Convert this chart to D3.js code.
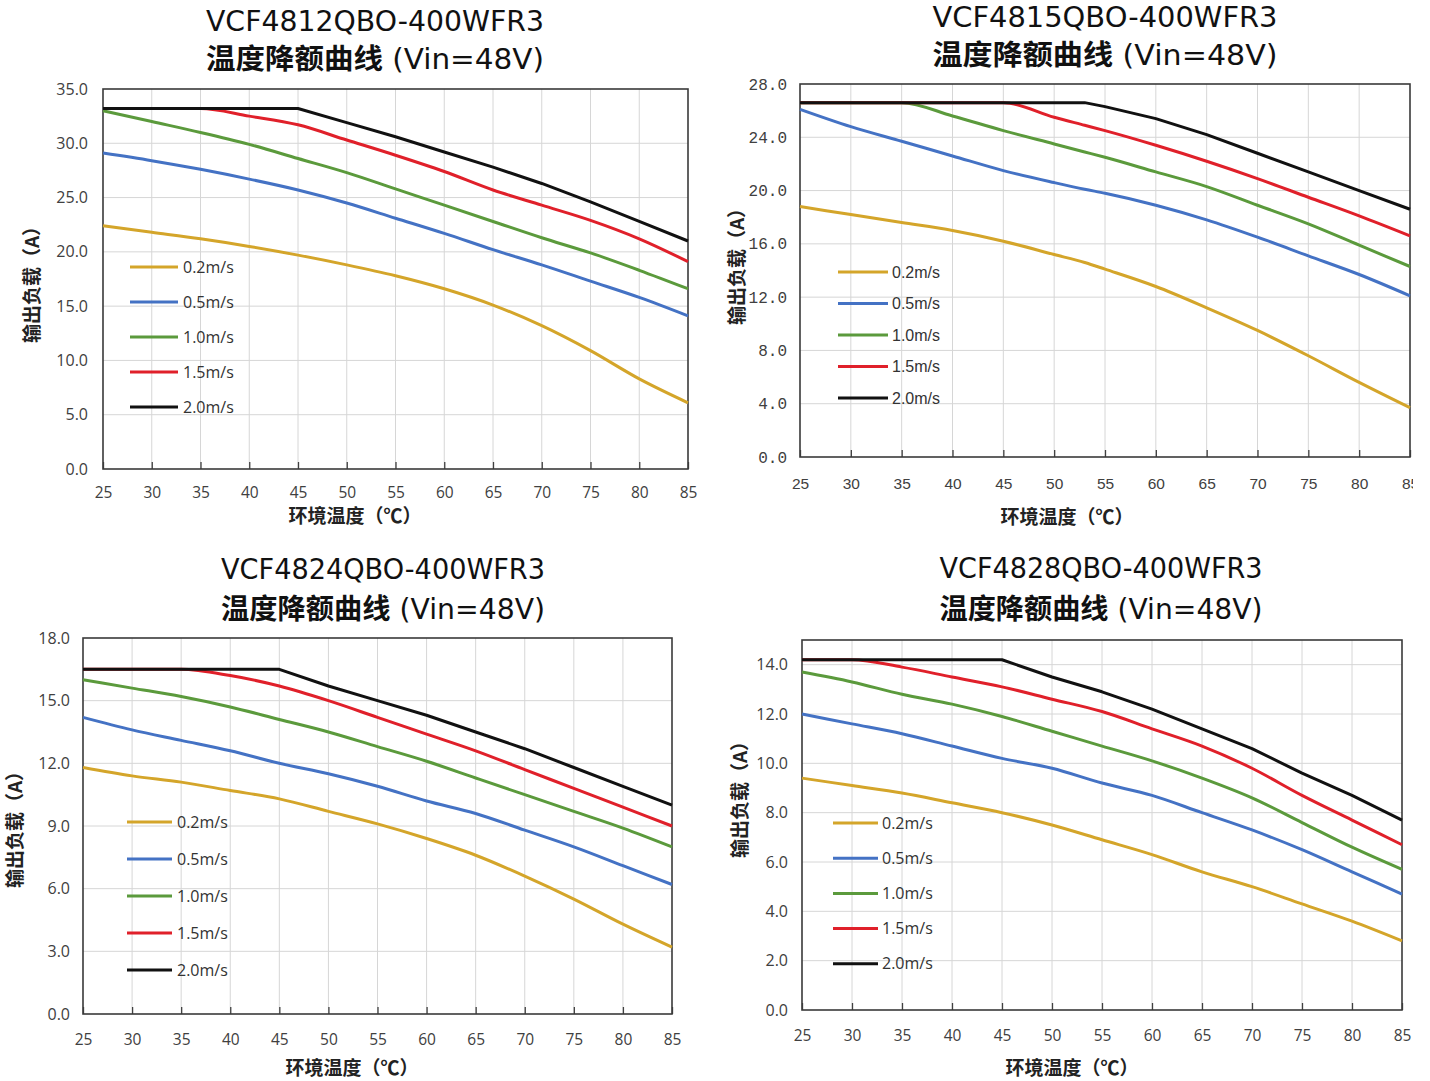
<!DOCTYPE html>
<html><head><meta charset="utf-8">
<script src="https://cdn.jsdelivr.net/npm/d3@7"></script>
<style>body{margin:0;background:#fff}</style>
</head><body><svg id="c" width="1430" height="1081" xmlns="http://www.w3.org/2000/svg"></svg>
<script>
// ---------------- DATA ----------------
const speeds = ["0.2m/s", "0.5m/s", "1.0m/s", "1.5m/s", "2.0m/s"];
const models = ["VCF4812QBO-400WFR3", "VCF4815QBO-400WFR3", "VCF4824QBO-400WFR3", "VCF4828QBO-400WFR3"];
const subtitleCN = "温度降额曲线";
const subtitleEN = " (Vin=48V)";
const xTitle = "环境温度（℃）";
const yTitle = "输出负载（A）";

const xTicks = [25, 30, 35, 40, 45, 50, 55, 60, 65, 70, 75, 80, 85];
const temps = [25, 30, 35, 40, 45, 50, 55, 60, 65, 70, 75, 80, 85];
const temps4815 = [25, 30, 35, 40, 45, 50, 53, 55, 60, 65, 70, 75, 80, 85];

const yTicks4812 = [0, 5, 10, 15, 20, 25, 30, 35];
const yTicks4815 = [0, 4, 8, 12, 16, 20, 24, 28];
const yTicks4824 = [0, 3, 6, 9, 12, 15, 18];
const yTicks4828 = [0, 2, 4, 6, 8, 10, 12, 14];
const yMax = [35, 28, 18, 15];

const p4812_02 = [22.4, 21.8, 21.2, 20.5, 19.7, 18.8, 17.8, 16.6, 15.1, 13.2, 10.9, 8.3, 6.1];
const p4812_05 = [29.1, 28.4, 27.6, 26.7, 25.7, 24.5, 23.1, 21.7, 20.2, 18.8, 17.3, 15.8, 14.1];
const p4812_10 = [33.0, 32.0, 31.0, 29.9, 28.6, 27.3, 25.8, 24.3, 22.8, 21.3, 19.9, 18.3, 16.6];
const p4812_15 = [33.2, 33.2, 33.2, 32.5, 31.7, 30.3, 28.9, 27.4, 25.7, 24.3, 22.9, 21.2, 19.1];
const p4812_20 = [33.2, 33.2, 33.2, 33.2, 33.2, 31.9, 30.6, 29.2, 27.8, 26.3, 24.6, 22.8, 21.0];

const p4815_02 = [18.8, 18.2, 17.6, 17.0, 16.2, 15.2, 14.6, 14.1, 12.8, 11.2, 9.5, 7.6, 5.6, 3.7];
const p4815_05 = [26.1, 24.8, 23.7, 22.6, 21.5, 20.6, 20.1, 19.8, 18.9, 17.8, 16.5, 15.1, 13.7, 12.1];
const p4815_10 = [26.6, 26.6, 26.6, 25.6, 24.5, 23.5, 22.9, 22.5, 21.4, 20.3, 18.9, 17.5, 15.9, 14.3];
const p4815_15 = [26.6, 26.6, 26.6, 26.6, 26.6, 25.5, 24.9, 24.5, 23.4, 22.2, 20.9, 19.5, 18.1, 16.6];
const p4815_20 = [26.6, 26.6, 26.6, 26.6, 26.6, 26.6, 26.6, 26.3, 25.4, 24.2, 22.8, 21.4, 20.0, 18.6];

const p4824_02 = [11.8, 11.4, 11.1, 10.7, 10.3, 9.7, 9.1, 8.4, 7.6, 6.6, 5.5, 4.3, 3.2];
const p4824_05 = [14.2, 13.6, 13.1, 12.6, 12.0, 11.5, 10.9, 10.2, 9.6, 8.8, 8.0, 7.1, 6.2];
const p4824_10 = [16.0, 15.6, 15.2, 14.7, 14.1, 13.5, 12.8, 12.1, 11.3, 10.5, 9.7, 8.9, 8.0];
const p4824_15 = [16.5, 16.5, 16.5, 16.2, 15.7, 15.0, 14.2, 13.4, 12.6, 11.7, 10.8, 9.9, 9.0];
const p4824_20 = [16.5, 16.5, 16.5, 16.5, 16.5, 15.7, 15.0, 14.3, 13.5, 12.7, 11.8, 10.9, 10.0];

const p4828_02 = [9.4, 9.1, 8.8, 8.4, 8.0, 7.5, 6.9, 6.3, 5.6, 5.0, 4.3, 3.6, 2.8];
const p4828_05 = [12.0, 11.6, 11.2, 10.7, 10.2, 9.8, 9.2, 8.7, 8.0, 7.3, 6.5, 5.6, 4.7];
const p4828_10 = [13.7, 13.3, 12.8, 12.4, 11.9, 11.3, 10.7, 10.1, 9.4, 8.6, 7.6, 6.6, 5.7];
const p4828_15 = [14.2, 14.2, 13.9, 13.5, 13.1, 12.6, 12.1, 11.4, 10.7, 9.8, 8.7, 7.7, 6.7];
const p4828_20 = [14.2, 14.2, 14.2, 14.2, 14.2, 13.5, 12.9, 12.2, 11.4, 10.6, 9.6, 8.7, 7.7];

const panels = [
  { model: models[0], temps: temps, yMax: yMax[0], yTicks: yTicks4812, series: [p4812_02, p4812_05, p4812_10, p4812_15, p4812_20] },
  { model: models[1], temps: temps4815, yMax: yMax[1], yTicks: yTicks4815, series: [p4815_02, p4815_05, p4815_10, p4815_15, p4815_20] },
  { model: models[2], temps: temps, yMax: yMax[2], yTicks: yTicks4824, series: [p4824_02, p4824_05, p4824_10, p4824_15, p4824_20] },
  { model: models[3], temps: temps, yMax: yMax[3], yTicks: yTicks4828, series: [p4828_02, p4828_05, p4828_10, p4828_15, p4828_20] }
];

// ---------------- STYLE / LAYOUT ----------------
const seriesColors = ["#d4a52a", "#4472c4", "#5b9a3c", "#e0202a", "#111111"];
const layouts = [
  { x0: 103, x1: 688, yTop: 89, yBot: 469, tX: 375, tY1: 21, tY2: 59, tW: 338,
    xlX: 355, xlY: 516, ylX: 32, ylY: 280, legX0: 130, legX1: 178, legTX: 183, legY0: 267, legDy: 35,
    xPad: 24, yPad: 15, tickFont: "'Open Sans', sans-serif", yTickFont: "'Open Sans', sans-serif", clip: null },
  { x0: 800, x1: 1410, yTop: 84, yBot: 457, tX: 1105, tY1: 17, tY2: 55, tW: 345,
    xlX: 1067, xlY: 517, ylX: 737, ylY: 262, legX0: 838, legX1: 888, legTX: 892, legY0: 272, legDy: 31.5,
    xPad: 27, yPad: 13, tickFont: "'Liberation Sans', sans-serif", yTickFont: "'Liberation Mono', monospace", clip: 1413 },
  { x0: 83, x1: 672, yTop: 638, yBot: 1014, tX: 383, tY1: 569, tY2: 609, tW: 324,
    xlX: 352, xlY: 1068, ylX: 15, ylY: 825, legX0: 127, legX1: 172, legTX: 177, legY0: 822, legDy: 37,
    xPad: 26, yPad: 13, tickFont: "'Open Sans', sans-serif", yTickFont: "'Open Sans', sans-serif", clip: null },
  { x0: 802, x1: 1402, yTop: 640, yBot: 1010, tX: 1101, tY1: 568, tY2: 609, tW: 323,
    xlX: 1072, xlY: 1068, ylX: 740, ylY: 795, legX0: 833, legX1: 878, legTX: 882, legY0: 823, legDy: 35.2,
    xPad: 26, yPad: 14, tickFont: "'Open Sans', sans-serif", yTickFont: "'Open Sans', sans-serif", clip: null }
];

const svg = d3.select("#c");
const defs = svg.append("defs");

panels.forEach((P, i) => {
  const L = layouts[i];
  const g = svg.append("g");
  if (L.clip) {
    defs.append("clipPath").attr("id", "clip" + i)
      .append("rect").attr("x", 700).attr("y", 0).attr("width", L.clip - 700).attr("height", 540);
    g.attr("clip-path", "url(#clip" + i + ")");
  }
  const x = d3.scaleLinear().domain([25, 85]).range([L.x0, L.x1]);
  const y = d3.scaleLinear().domain([0, P.yMax]).range([L.yBot, L.yTop]);

  // grid
  g.append("g").selectAll("line").data(xTicks.slice(1, -1)).join("line")
    .attr("x1", d => x(d)).attr("x2", d => x(d)).attr("y1", L.yTop).attr("y2", L.yBot)
    .attr("stroke", "#d6d6d6").attr("stroke-width", 1);
  g.append("g").selectAll("line").data(P.yTicks.filter(v => v > 0 && v < P.yMax)).join("line")
    .attr("x1", L.x0).attr("x2", L.x1).attr("y1", d => y(d)).attr("y2", d => y(d))
    .attr("stroke", "#d6d6d6").attr("stroke-width", 1);

  // x axis (ticks inside)
  const xa = g.append("g").attr("transform", `translate(0,${L.yBot})`)
    .call(d3.axisBottom(x).tickValues(xTicks).tickSizeInner(-7).tickSizeOuter(0).tickPadding(0).tickFormat(d3.format("d")));
  xa.select(".domain").remove();
  xa.selectAll(".tick line").attr("stroke", "#404040").attr("stroke-width", 1.3);
  xa.selectAll(".tick text").attr("y", L.xPad).attr("dy", "0.35em")
    .attr("font-family", L.tickFont).attr("font-size", 15.5).attr("fill", "#404040");

  // y axis
  const ya = g.append("g").attr("transform", `translate(${L.x0},0)`)
    .call(d3.axisLeft(y).tickValues(P.yTicks).tickSize(0).tickPadding(L.yPad).tickFormat(d3.format(".1f")));
  ya.select(".domain").remove();
  ya.selectAll(".tick text").attr("font-family", L.yTickFont).attr("font-size", 16).attr("fill", "#404040");

  // border
  g.append("rect").attr("x", L.x0).attr("y", L.yTop).attr("width", L.x1 - L.x0).attr("height", L.yBot - L.yTop)
    .attr("fill", "none").attr("stroke", "#3a3a3a").attr("stroke-width", 1.6);

  // curves
  P.series.forEach((vals, k) => {
    const pts = P.temps.map((t, j) => [t, vals[j]]);
    const line = d3.line().x(d => x(d[0])).y(d => y(d[1]))
      .curve(k === 4 ? d3.curveLinear : d3.curveMonotoneX);
    g.append("path").datum(pts).attr("d", line).attr("fill", "none")
      .attr("stroke", seriesColors[k]).attr("stroke-width", 3).attr("stroke-linejoin", "round");
  });

  // legend
  speeds.forEach((s, k) => {
    const ly = L.legY0 + k * L.legDy;
    g.append("line").attr("x1", L.legX0).attr("x2", L.legX1).attr("y1", ly).attr("y2", ly)
      .attr("stroke", seriesColors[k]).attr("stroke-width", 3);
    g.append("text").attr("x", L.legTX).attr("y", ly).attr("dy", "0.35em")
      .attr("font-family", L.tickFont).attr("font-size", 16).attr("fill", "#333").text(s);
  });

  // titles
  g.append("text").attr("x", L.tX).attr("y", L.tY1).attr("dy", "0.36em").attr("text-anchor", "middle")
    .attr("font-family", "'DejaVu Sans', sans-serif").attr("font-size", 28).attr("fill", "#111")
    .attr("textLength", L.tW).attr("lengthAdjust", "spacingAndGlyphs").text(P.model);
  const t2 = g.append("text").attr("x", L.tX).attr("y", L.tY2).attr("dy", "0.36em").attr("text-anchor", "middle")
    .attr("font-size", 28).attr("fill", "#111").attr("textLength", L.tW).attr("lengthAdjust", "spacingAndGlyphs");
  t2.append("tspan").attr("font-family", "'Noto Sans CJK SC', sans-serif").attr("font-weight", "bold").text(subtitleCN);
  t2.append("tspan").attr("font-family", "'DejaVu Sans', sans-serif").text(subtitleEN);

  // axis titles
  g.append("text").attr("x", L.xlX).attr("y", L.xlY).attr("dy", "0.36em").attr("text-anchor", "middle")
    .attr("font-family", "'Noto Sans CJK SC', sans-serif").attr("font-weight", "bold").attr("font-size", 19)
    .attr("fill", "#222").text(xTitle);
  g.append("text").attr("transform", `translate(${L.ylX},${L.ylY}) rotate(-90)`).attr("dy", "0.36em")
    .attr("text-anchor", "middle").attr("font-family", "'Noto Sans CJK SC', sans-serif").attr("font-weight", "bold")
    .attr("font-size", 19).attr("fill", "#222").text(yTitle);
});
</script>
</body></html>
